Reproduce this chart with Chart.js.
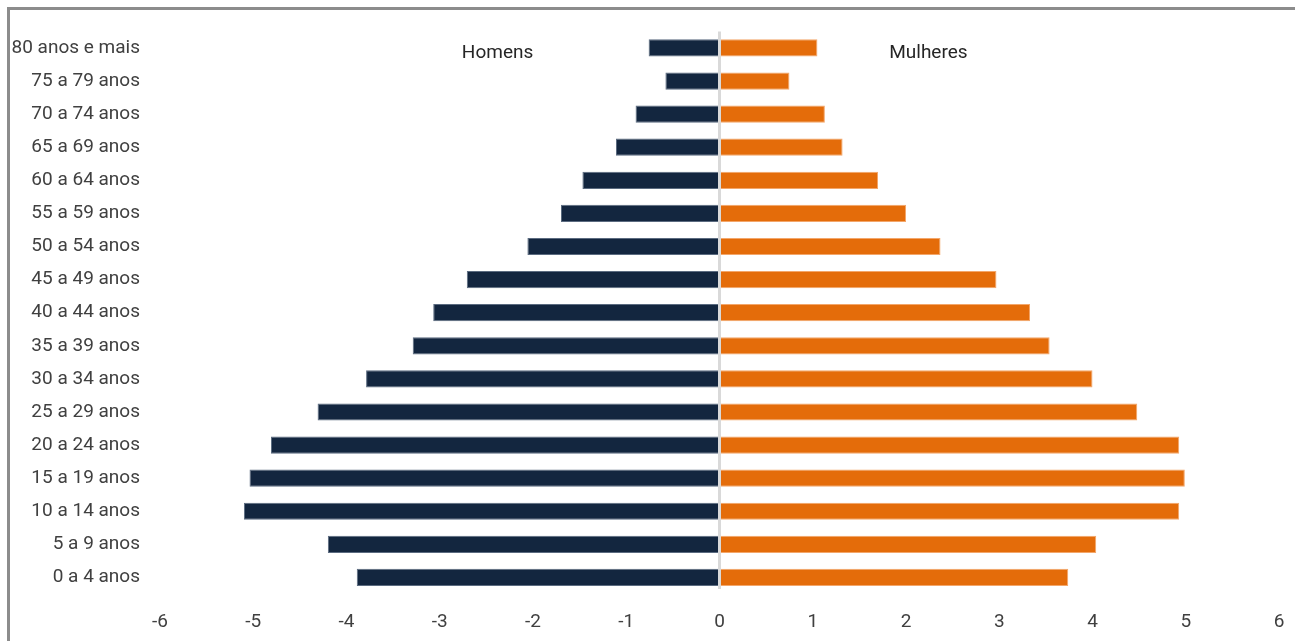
<!DOCTYPE html>
<html>
<head>
<meta charset="utf-8">
<script src="https://cdn.jsdelivr.net/npm/chart.js@4/dist/chart.umd.min.js"></script>
<style>
  html, body { margin: 0; padding: 0; background: #fff; }
  #wrap { position: relative; width: 1295px; height: 641px; overflow: hidden; }
  #frame { position: absolute; left: 7px; top: 7px; width: 1400px; height: 700px;
           border-top: 3px solid #8c8c8c; border-left: 3px solid #8c8c8c; box-sizing: border-box; }
  canvas { position: absolute; left: 0; top: 0; }
</style>
</head>
<body>
<div id="wrap">
  <div id="frame"></div>
  <canvas id="c" width="1295" height="641"></canvas>
</div>
<script>
const categories = ["80 anos e mais","75 a 79 anos","70 a 74 anos","65 a 69 anos","60 a 64 anos",
  "55 a 59 anos","50 a 54 anos","45 a 49 anos","40 a 44 anos","35 a 39 anos","30 a 34 anos",
  "25 a 29 anos","20 a 24 anos","15 a 19 anos","10 a 14 anos","5 a 9 anos","0 a 4 anos"];
const homens = [-0.76,-0.58,-0.90,-1.11,-1.47,-1.70,-2.06,-2.71,-3.07,-3.29,-3.79,-4.31,-4.81,-5.04,-5.10,-4.20,-3.89];
const mulheres = [1.05,0.75,1.13,1.32,1.70,2.00,2.37,2.97,3.33,3.54,4.00,4.48,4.93,4.99,4.93,4.04,3.74];
const xTicks = [-6,-5,-4,-3,-2,-1,0,1,2,3,4,5,6];
const seriesNames = ["Homens","Mulheres"];
const seriesLabelPos = [-2.38, 2.24];

const FONT = "'Liberation Sans Narrow', 'Roboto', 'Liberation Sans', sans-serif";

const centerAndLabels = {
  id: 'centerAndLabels',
  afterDatasetsDraw(chart) {
    const ctx = chart.ctx, xs = chart.scales.x, ys = chart.scales.y, ca = chart.chartArea;
    const x0 = xs.getPixelForValue(0);
    ctx.save();
    ctx.strokeStyle = '#d9d9d9';
    ctx.lineWidth = 3;
    ctx.beginPath();
    ctx.moveTo(x0, ca.top);
    ctx.lineTo(x0, ca.bottom - 5);
    ctx.stroke();
    ctx.fillStyle = '#262626';
    ctx.font = '19px ' + FONT;
    ctx.textAlign = 'center';
    ctx.textBaseline = 'middle';
    const y = ys.getPixelForValue(0) + 5;
    seriesNames.forEach((n, i) => ctx.fillText(n, xs.getPixelForValue(seriesLabelPos[i]), y));
    ctx.restore();
  }
};

new Chart(document.getElementById('c'), {
  type: 'bar',
  data: {
    labels: categories,
    datasets: [
      { label: seriesNames[0], data: homens, backgroundColor: '#13263f', borderColor: '#5b6b80', borderWidth: 1, borderSkipped: false },
      { label: seriesNames[1], data: mulheres, backgroundColor: '#e46c0a', borderColor: '#f3a66a', borderWidth: 1, borderSkipped: false }
    ]
  },
  options: {
    indexAxis: 'y',
    responsive: false,
    animation: false,
    datasets: { bar: { categoryPercentage: 1.0, barPercentage: 0.52 } },
    layout: { padding: { left: 10, right: 16, top: 28, bottom: 0 } },
    plugins: { legend: { display: false }, tooltip: { enabled: false } },
    scales: {
      x: {
        type: 'linear', min: -6, max: 6,
        afterBuildTicks(scale) { scale.ticks = xTicks.map(v => ({ value: v })); },
        afterFit(scale) { scale.height = 47; },
        grid: { display: false, drawTicks: false },
        border: { display: false },
        ticks: { color: '#404040', font: { family: FONT, size: 19, lineHeight: '48px' }, padding: 4, maxRotation: 0 }
      },
      y: {
        stacked: true,
        grid: { display: false, drawTicks: false },
        border: { display: false },
        afterFit(scale) { scale.width = 150; },
        ticks: { color: '#404040', font: { family: FONT, size: 19 }, padding: 20, autoSkip: false }
      }
    }
  },
  plugins: [centerAndLabels]
});
</script>
</body>
</html>
